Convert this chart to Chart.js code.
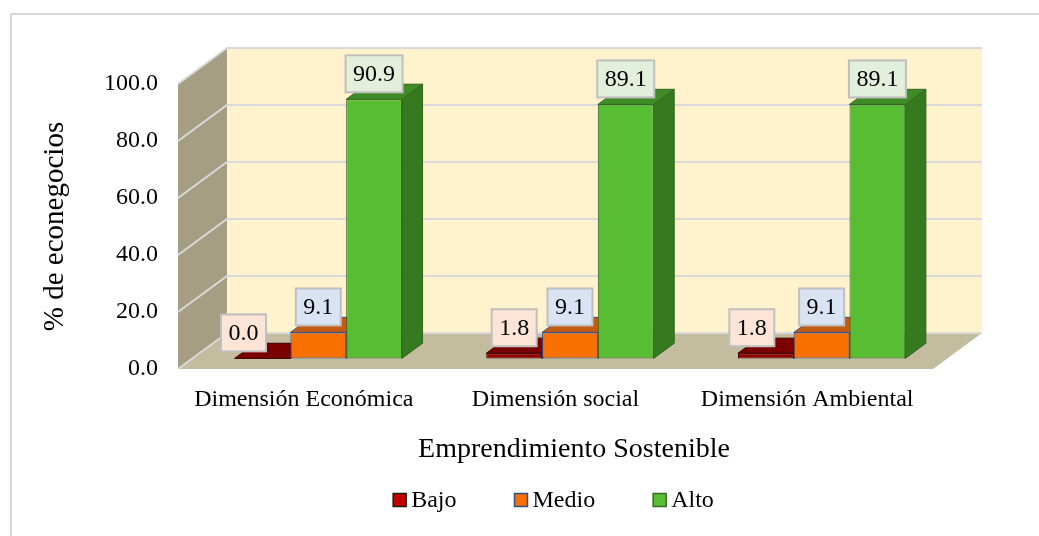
<!DOCTYPE html>
<html><head><meta charset="utf-8">
<script src="https://cdn.jsdelivr.net/npm/chart.js@4.4.1/dist/chart.umd.min.js"></script>
<style>
html,body{margin:0;padding:0;background:#fff;overflow:hidden;width:1039px;height:536px;}
#frame{position:absolute;left:10px;top:13px;width:1200px;height:700px;border-left:2px solid #D9D9D9;border-top:2px solid #D9D9D9;}
#c{position:absolute;left:0;top:0;}
</style></head><body>
<div id="frame"></div>
<canvas id="c" width="1039" height="536"></canvas>
<script>
// ---- data ----
const categories = ['Dimensión Económica', 'Dimensión social', 'Dimensión Ambiental'];
const seriesNames = ['Bajo', 'Medio', 'Alto'];
const bajo = [0.0, 1.8, 1.8];
const medio = [9.1, 9.1, 9.1];
const alto = [90.9, 89.1, 89.1];
const yTickValues = [0, 20, 40, 60, 80, 100];
const xTitle = 'Emprendimiento Sostenible';
const yTitle = '% de econegocios';

// ---- style ----
const FONT = "'Liberation Serif','Times New Roman',serif";
const styles = [
  {front:'#920000', top:'#7A0000', side:'#5C0000', border:'#3A0000', legend:'#C00000', legendBorder:'#1A1A1A', labelBg:'#FCE4D6'},
  {front:'#F87000', top:'#C55A11', side:'#A84C0C', border:'#2F528F', legend:'#F87000', legendBorder:'#2F528F', labelBg:'#DAE3F3'},
  {front:'#57BD32', top:'#3F8C26', side:'#367A1F', border:'#34651F', legend:'#57BD32', legendBorder:'#3A6B24', labelBg:'#E2EFDA'}
];
const labelShift = [[-19, 0, -14], [0, 0, 0], [0, 0, 0]];
const DEPTH = {dx: 49, dy: -36};
const BAR_FRONT = 0.295, BAR_BACK = 0.715;

function poly(ctx, pts, fill, stroke, lw) {
  ctx.beginPath();
  ctx.moveTo(pts[0][0], pts[0][1]);
  for (let k = 1; k < pts.length; k++) ctx.lineTo(pts[k][0], pts[k][1]);
  ctx.closePath();
  if (fill) { ctx.fillStyle = fill; ctx.fill(); }
  if (stroke) { ctx.strokeStyle = stroke; ctx.lineWidth = lw || 1; ctx.stroke(); }
}

const box3d = {
  id: 'box3d',
  beforeDraw(chart) {
    const {ctx, chartArea: {left, right}} = chart;
    const ys = chart.scales.y;
    const y0 = ys.getPixelForValue(ys.min), yT = ys.getPixelForValue(ys.max);
    const {dx, dy} = DEPTH;
    ctx.save();
    poly(ctx, [[left+dx, yT+dy], [right+dx, yT+dy], [right+dx, y0+dy], [left+dx, y0+dy]], '#FFF2CC');
    poly(ctx, [[left, yT], [left+dx, yT+dy], [left+dx, y0+dy], [left, y0]], '#A59E83');
    poly(ctx, [[left, y0], [right, y0], [right+dx, y0+dy], [left+dx, y0+dy]], '#C4BC9F');
    ctx.strokeStyle = '#D9D9D9';
    ctx.lineWidth = 2;
    ys.ticks.forEach(t => {
      const p = ys.getPixelForValue(t.value);
      ctx.beginPath();
      ctx.moveTo(left, p);
      ctx.lineTo(left+dx, p+dy);
      ctx.lineTo(right+dx, p+dy);
      ctx.stroke();
    });
    ctx.restore();
  },
  beforeDatasetsDraw(chart) {
    const ctx = chart.ctx;
    ctx.save();
    ctx.translate(DEPTH.dx*BAR_FRONT, DEPTH.dy*BAR_FRONT);
    const ddx = DEPTH.dx*(BAR_BACK-BAR_FRONT), ddy = DEPTH.dy*(BAR_BACK-BAR_FRONT);
    chart.data.datasets.forEach((ds, i) => {
      const st = styles[i];
      chart.getDatasetMeta(i).data.forEach(bar => {
        const {x, y, base, width} = bar.getProps(['x', 'y', 'base', 'width'], true);
        const x1 = x - width/2, x2 = x + width/2;
        poly(ctx, [[x2, y], [x2+ddx, y+ddy], [x2+ddx, base+ddy], [x2, base]], st.side, st.border, 1);
        poly(ctx, [[x1, y], [x2, y], [x2+ddx, y+ddy], [x1+ddx, y+ddy]], st.top, st.border, 1);
      });
    });
  },
  afterDatasetsDraw(chart) {
    const ctx = chart.ctx;
    ctx.font = '24px ' + FONT;
    ctx.textAlign = 'center';
    ctx.textBaseline = 'middle';
    chart.data.datasets.forEach((ds, i) => {
      const st = styles[i];
      chart.getDatasetMeta(i).data.forEach((bar, j) => {
        const {x, y} = bar.getProps(['x', 'y'], true);
        const text = ds.data[j].toFixed(1);
        const w = ctx.measureText(text).width + 15, h = 37;
        const cx = x + labelShift[i][j], by = y - 7;
        ctx.fillStyle = st.labelBg;
        ctx.fillRect(cx - w/2, by - h, w, h);
        ctx.strokeStyle = '#BFBFBF';
        ctx.lineWidth = 2;
        ctx.strokeRect(cx - w/2, by - h, w, h);
        ctx.fillStyle = '#000';
        ctx.fillText(text, cx, by - h/2 + 1);
      });
    });
    ctx.restore();
  },
  afterDraw(chart) {
    const {ctx, chartArea: {left, right, top, bottom}} = chart;
    ctx.save();
    ctx.fillStyle = '#000';
    ctx.textBaseline = 'middle';
    // axis titles
    ctx.font = '28px ' + FONT;
    ctx.textAlign = 'center';
    ctx.fillText(xTitle, (left + right + DEPTH.dx) / 2 - 6, bottom + 81);
    ctx.save();
    ctx.translate(55, (top + bottom) / 2);
    ctx.rotate(-Math.PI/2);
    ctx.font = '29px ' + FONT;
    ctx.fillText(yTitle, 0, 0);
    ctx.restore();
    // legend
    ctx.font = '24px ' + FONT;
    ctx.textAlign = 'left';
    const box = 13, gapTxt = 5, gapItem = 58;
    const widths = seriesNames.map(n => box + gapTxt + ctx.measureText(n).width);
    const total = widths.reduce((a, b) => a + b, 0) + gapItem * (widths.length - 1);
    let x = (left + right) / 2 - 2 - total / 2;
    const ly = bottom + 131;
    seriesNames.forEach((n, i) => {
      ctx.fillStyle = styles[i].legend;
      ctx.fillRect(x, ly - box/2, box, box);
      ctx.strokeStyle = styles[i].legendBorder;
      ctx.lineWidth = 1.5;
      ctx.strokeRect(x, ly - box/2, box, box);
      ctx.fillStyle = '#000';
      ctx.fillText(n, x + box + gapTxt, ly + 1);
      x += widths[i] + gapItem;
    });
    ctx.restore();
  }
};

const seriesData = [bajo, medio, alto];
new Chart(document.getElementById('c'), {
  type: 'bar',
  data: {
    labels: categories,
    datasets: seriesNames.map((n, i) => ({
      label: n,
      data: seriesData[i],
      backgroundColor: styles[i].front,
      borderColor: styles[i].border,
      borderWidth: 1,
      borderSkipped: false,
      categoryPercentage: 0.665,
      barPercentage: 1.0,
      clip: false
    }))
  },
  options: {
    responsive: false,
    animation: false,
    devicePixelRatio: 1,
    layout: {padding: {left: 10, top: 84, right: 106, bottom: 67}},
    plugins: {legend: {display: false}, tooltip: {enabled: false}},
    scales: {
      x: {
        grid: {display: false, drawTicks: false},
        border: {display: false},
        ticks: {font: {family: FONT, size: 24}, color: '#000', padding: 16, maxRotation: 0},
        afterFit: s => { s.height = 100; }
      },
      y: {
        min: 0, max: 100,
        grid: {display: false, drawTicks: false},
        border: {display: false},
        afterBuildTicks: s => { s.ticks = yTickValues.map(v => ({value: v})); },
        ticks: {font: {family: FONT, size: 24}, color: '#000', padding: 20, callback: v => Number(v).toFixed(1)},
        afterFit: s => { s.width = 168; }
      }
    }
  },
  plugins: [box3d]
});
</script>
</body></html>
